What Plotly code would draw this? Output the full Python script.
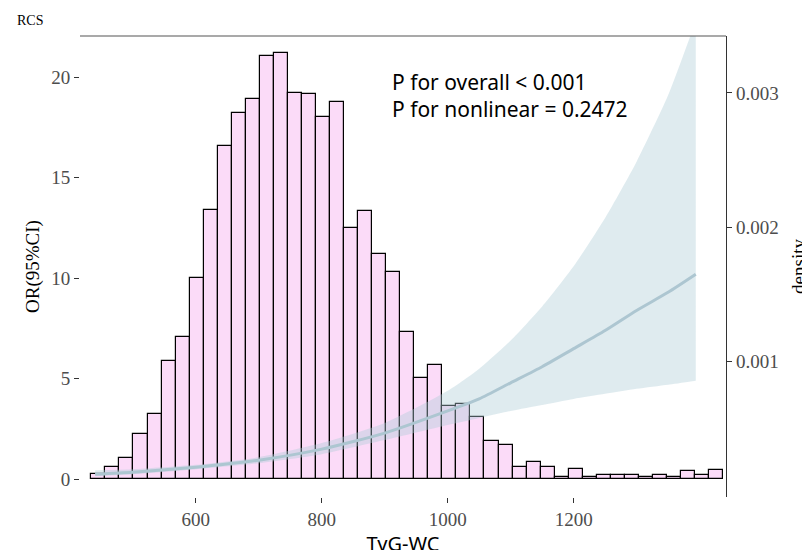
import plotly.graph_objects as go

# histogram of TyG-WC (heights read in OR-axis units, ggplot overlay)
bin_start = 434
bin_width = 22.3
bar_heights = [0.24, 0.6, 1.04, 2.23, 3.25, 5.9, 7.07, 10.03, 13.4, 16.57,
               18.24, 18.9, 21.06, 21.2, 19.2, 19.17, 18.0, 18.78, 12.52, 13.33,
               11.2, 10.3, 7.32, 5.04, 5.69, 3.66, 3.74, 3.1, 1.92, 1.69,
               0.6, 0.85, 0.59, 0.11, 0.52, 0.11, 0.23, 0.23, 0.23, 0.11,
               0.23, 0.11, 0.39, 0.23, 0.47]
bar_x = [bin_start + bin_width * (i + 0.5) for i in range(len(bar_heights))]

# RCS curve with 95% CI
rcs_x = [440, 500, 600, 700, 800, 900, 1000, 1050, 1100, 1150, 1200, 1250, 1300, 1350, 1394]
rcs_or = [0.25, 0.35, 0.6, 0.95, 1.5, 2.3, 3.4, 4.0, 4.8, 5.6, 6.5, 7.4, 8.4, 9.3, 10.2]
rcs_lo = [0.15, 0.25, 0.5, 0.8, 1.25, 1.95, 2.7, 3.05, 3.4, 3.7, 4.0, 4.25, 4.5, 4.7, 4.9]
rcs_hi = [0.45, 0.5, 0.72, 1.1, 1.8, 2.8, 4.4, 5.5, 6.9, 8.6, 10.6, 13.0, 15.8, 19.1, 22.8]

fig = go.Figure()
fig.add_trace(go.Bar(x=bar_x, y=bar_heights, width=bin_width,
                     marker=dict(color="#fbdbf8", line=dict(color="black", width=1.2)),
                     showlegend=False))
fig.add_trace(go.Scatter(x=rcs_x, y=rcs_hi, mode="lines", line=dict(width=0, shape="spline", smoothing=0.6),
                         showlegend=False, hoverinfo="skip"))
fig.add_trace(go.Scatter(x=rcs_x, y=rcs_lo, mode="lines", line=dict(width=0, shape="spline", smoothing=0.6),
                         fill="tonexty", fillcolor="rgba(176,204,214,0.4)",
                         showlegend=False, hoverinfo="skip"))
fig.add_trace(go.Scatter(x=rcs_x, y=rcs_or, mode="lines",
                         line=dict(color="#adc6d1", width=3, shape="spline", smoothing=0.6),
                         showlegend=False))
# dummy trace to show the density axis
fig.add_trace(go.Scatter(x=[None], y=[None], yaxis="y2", showlegend=False))

tick_font = dict(family="Liberation Serif", size=19, color="#4d4d4d")
fig.update_layout(
    width=810, height=550, plot_bgcolor="white", paper_bgcolor="white",
    margin=dict(l=72, r=90, t=28, b=50), bargap=0,
    xaxis=dict(range=[416, 1442], tickvals=[600, 800, 1000, 1200], ticks="outside",
               ticklen=5, tickcolor="#333", showgrid=False, zeroline=False,
               tickfont=tick_font,
               title=dict(text="TyG-WC", font=dict(family="Noto Sans", size=20, color="black"),
                          standoff=2)),
    yaxis=dict(range=[-0.88, 22.05], tickvals=[0, 5, 10, 15, 20], ticks="outside",
               ticklen=5, tickcolor="#333", showgrid=False, zeroline=False,
               tickfont=tick_font,
               title=dict(text="OR(95%CI)", font=dict(family="Liberation Serif", size=19, color="black"),
                          standoff=6)),
    yaxis2=dict(range=[-0.0000073, 0.003423], overlaying="y", side="right",
                tickvals=[0.001, 0.002, 0.003], ticktext=["0.001", "0.002", "0.003"],
                ticks="outside", ticklen=5, tickcolor="#333", showgrid=False, zeroline=False,
                showline=True, linecolor="#333", linewidth=1.2, tickfont=tick_font,
                title=dict(text="density", font=dict(family="Liberation Serif", size=19, color="black"),
                           standoff=14)),
    shapes=[dict(type="line", xref="paper", yref="paper", x0=0, x1=1, y0=1, y1=1,
                 line=dict(color="#555", width=1.2))],
    annotations=[
        dict(text="P for overall < 0.001<br>P for nonlinear = 0.2472", xref="paper", yref="paper",
             x=0.48, y=0.935, xanchor="left", yanchor="top", align="left", showarrow=False,
             font=dict(family="Noto Sans", size=21, color="black")),
        dict(text="RCS", xref="paper", yref="paper", x=-0.1, y=1.055, xanchor="left",
             yanchor="top", showarrow=False,
             font=dict(family="Liberation Serif", size=14, color="black")),
    ],
)
fig.write_html("out.html")
